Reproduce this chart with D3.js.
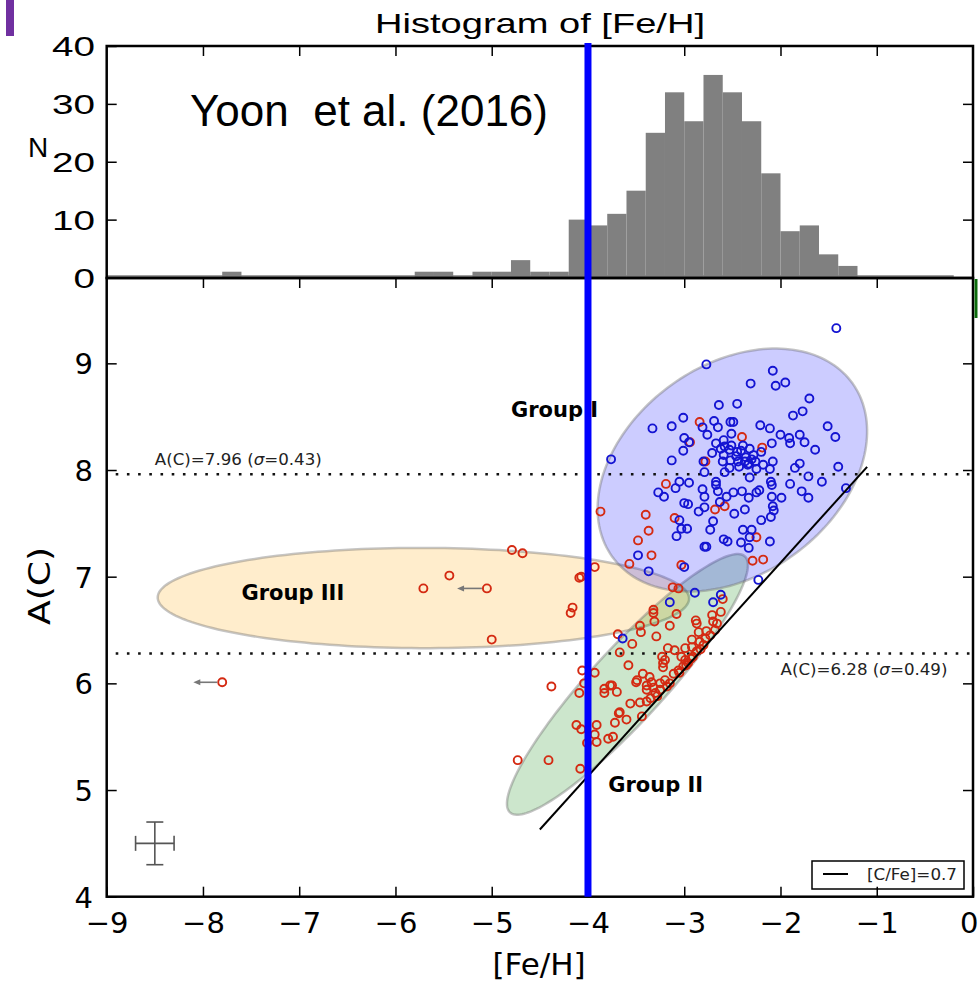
<!DOCTYPE html>
<html>
<head>
<meta charset="utf-8">
<script src="https://cdn.jsdelivr.net/npm/d3@7/dist/d3.min.js"></script>
<style>
  html, body { margin: 0; padding: 0; background: #fff; }
  svg { display: block; }
</style>
</head>
<body>
<div id="chart"></div>
<script>
'use strict';

/* ── Histogram of [Fe/H] (0.2 dex bins, left edges) ── */
const histEdges = [
  -9.0, -8.8, -8.6, -8.4, -8.2, -8.0, -7.8, -7.6, -7.4, -7.2, -7.0,
  -6.8, -6.6, -6.4, -6.2, -6.0, -5.8, -5.6, -5.4, -5.2, -5.0, -4.8,
  -4.6, -4.4, -4.2, -4.0, -3.8, -3.6, -3.4, -3.2, -3.0, -2.8, -2.6,
  -2.4, -2.2, -2.0, -1.8, -1.6, -1.4, -1.2, -1.0, -0.8, -0.6, -0.4
];
const histCounts = [
  0, 0, 0, 0, 0, 0, 1, 0, 0, 0, 0,
  0, 0, 0, 0, 0, 1, 1, 0, 1, 1, 3,
  1, 1, 10, 9, 11, 15, 25, 32, 27, 35, 32,
  27, 18, 8, 9, 4, 2, 0, 0, 0, 0, 0
];
const histBinWidth = 0.2;
const histTicks = [0, 10, 20, 30, 40];

/* ── Scatter: [Fe/H], A(C) ── */
const blueStars = [
  [-1.42, 9.33], [-2.77, 8.99], [-2.08, 8.93], [-2.31, 8.81], [-2.05, 8.79], [-1.95, 8.82], [-1.70, 8.67],
  [-2.64, 8.61], [-2.45, 8.62], [-1.77, 8.55], [-1.87, 8.51], [-3.01, 8.49], [-3.33, 8.39], [-3.13, 8.41],
  [-2.69, 8.46], [-2.52, 8.45], [-2.49, 8.45], [-2.65, 8.40], [-2.81, 8.40], [-2.21, 8.42], [-2.11, 8.39],
  [-1.51, 8.41], [-1.43, 8.31], [-2.00, 8.33], [-1.91, 8.30], [-1.80, 8.33], [-1.75, 8.26], [-1.64, 8.19],
  [-1.90, 8.25], [-2.09, 8.25], [-2.76, 8.33], [-2.51, 8.34], [-3.00, 8.30], [-2.95, 8.26], [-3.01, 8.18],
  [-3.76, 8.10], [-3.13, 8.09], [-2.71, 8.16], [-2.67, 8.25], [-2.59, 8.28], [-2.58, 8.22], [-2.53, 8.19],
  [-2.45, 8.17], [-2.39, 8.23], [-2.32, 8.20], [-2.28, 8.14], [-2.37, 8.08], [-2.44, 8.08], [-2.52, 8.09],
  [-2.60, 8.08], [-2.08, 8.08], [-2.18, 8.05], [-1.80, 8.06], [-1.40, 8.03], [-2.80, 8.08], [-2.59, 8.14],
  [-2.79, 7.98], [-2.58, 7.98], [-2.33, 8.06], [-2.25, 8.01], [-2.11, 8.01], [-1.85, 8.02], [-1.71, 7.94],
  [-1.57, 7.89], [-1.32, 7.83], [-3.05, 7.89], [-2.95, 7.88], [-3.27, 7.79], [-3.21, 7.75], [-3.09, 7.83],
  [-2.81, 7.82], [-2.79, 7.75], [-2.67, 7.89], [-2.67, 7.86], [-2.65, 7.80], [-2.56, 7.75], [-2.49, 7.79],
  [-2.40, 7.80], [-2.33, 7.74], [-2.25, 7.79], [-2.22, 7.81], [-2.09, 7.86], [-2.09, 7.75], [-1.99, 7.74],
  [-1.90, 7.87], [-1.78, 7.80], [-1.71, 7.74], [-2.32, 7.93], [-2.10, 7.89], [-3.00, 7.69], [-2.96, 7.68],
  [-2.85, 7.61], [-2.79, 7.65], [-2.63, 7.70], [-2.48, 7.59], [-2.37, 7.63], [-2.20, 7.53], [-2.10, 7.56],
  [-2.07, 7.62], [-2.08, 7.66], [-3.05, 7.53], [-2.97, 7.45], [-3.03, 7.45], [-3.08, 7.38], [-2.70, 7.52],
  [-2.73, 7.44], [-2.39, 7.44], [-2.30, 7.44], [-2.32, 7.37], [-2.41, 7.32], [-2.33, 7.27], [-2.11, 7.33],
  [-2.59, 7.35], [-2.55, 7.33], [-2.79, 7.28], [-2.77, 7.28], [-3.48, 7.20], [-3.37, 7.05], [-3.00, 7.09],
  [-2.23, 6.97], [-2.46, 8.13], [-2.36, 8.12], [-2.30, 8.10], [-2.41, 8.18], [-2.51, 8.23], [-2.34, 8.05],
  [-2.26, 8.08], [-2.43, 8.03], [-2.53, 8.02], [-2.20, 8.17], [-2.62, 8.20],
  [-2.89, 6.85], [-2.62, 6.83], [-3.15, 6.76], [-2.70, 6.76], [-3.64, 6.42]
];

const redStars = [
  // inside Group I
  [-2.84, 8.45], [-2.94, 8.26], [-2.40, 8.31], [-2.19, 8.21], [-2.78, 8.08], [-3.19, 7.87], [-3.87, 7.61],
  [-3.40, 7.58], [-3.37, 7.43], [-3.48, 7.34], [-3.34, 7.20], [-3.10, 7.55], [-3.57, 7.12], [-3.03, 7.11],
  [-2.29, 7.15], [-2.18, 7.16], [-2.68, 7.63], [-2.58, 7.66], [-2.25, 7.37],
  // Group III
  [-4.79, 7.25], [-4.68, 7.22], [-5.44, 7.01], [-5.71, 6.89], [-5.00, 6.41], [-4.09, 6.99], [-4.07, 7.00],
  [-3.93, 7.09], [-4.16, 6.71], [-4.18, 6.66], [-4.06, 6.12], [-3.93, 6.10], [-4.38, 5.97],
  // Group II
  [-3.12, 6.90], [-3.06, 6.89], [-2.60, 6.79], [-2.62, 6.67], [-3.32, 6.69], [-3.32, 6.66], [-3.31, 6.58],
  [-3.08, 6.65], [-3.15, 6.54], [-3.46, 6.54], [-3.45, 6.48], [-3.29, 6.44], [-2.88, 6.59], [-2.87, 6.56],
  [-2.71, 6.64], [-2.70, 6.58], [-2.85, 6.48], [-2.77, 6.49], [-2.73, 6.45], [-2.92, 6.41], [-2.84, 6.39],
  [-2.80, 6.36], [-3.69, 6.46], [-3.54, 6.37], [-3.67, 6.29], [-3.17, 6.33], [-3.10, 6.31], [-3.23, 6.25],
  [-3.20, 6.22], [-2.99, 6.33], [-2.92, 6.34], [-2.87, 6.30], [-2.91, 6.25], [-3.03, 6.25], [-2.99, 6.22],
  [-2.96, 6.19], [-3.22, 6.19], [-3.22, 6.15], [-3.58, 6.17], [-3.49, 6.03], [-3.43, 6.09], [-3.36, 6.06],
  [-3.39, 5.98], [-3.11, 6.09], [-3.06, 6.12], [-3.01, 6.16], [-3.20, 6.03], [-3.15, 6.00], [-3.25, 6.00],
  [-3.77, 5.98], [-4.09, 5.91], [-3.83, 5.95], [-3.83, 5.91], [-3.75, 5.98], [-3.70, 5.92], [-3.50, 6.01],
  [-3.39, 5.94], [-3.34, 6.01], [-3.32, 5.96], [-3.30, 5.91], [-3.25, 5.94], [-3.56, 5.81], [-3.46, 5.82],
  [-3.39, 5.83], [-3.67, 5.73], [-3.68, 5.72], [-3.60, 5.66], [-3.72, 5.63], [-3.44, 5.69], [-4.12, 5.61],
  [-4.07, 5.57], [-3.91, 5.61], [-3.93, 5.52], [-3.91, 5.45], [-3.79, 5.48], [-3.74, 5.50], [-4.73, 5.28],
  [-4.41, 5.28], [-4.08, 5.20], [-4.01, 5.44], [-4.04, 6.00],
  [-3.28, 5.88], [-3.18, 5.97], [-3.05, 6.10], [-2.98, 6.17], [-2.93, 6.23], [-2.83, 6.32], [-2.78, 6.42],
  [-2.68, 6.50], [-2.66, 6.56], [-3.35, 5.86]
];

// upper limits on [Fe/H]
const limitStars = [[-7.80, 6.01], [-5.05, 6.89]];
const limitArrowTo = [-8.10, -5.36];

/* ── Group ellipses: centre, two conjugate semi-axes (data units) ── */
const groupNames = ['Group III', 'Group II', 'Group I'];
const groupCenters = [[-5.71, 6.80], [-3.59, 5.99], [-2.50, 8.00]];
const groupAxisU = [[2.76, -0.01], [1.22, 1.20], [1.25, 0.81]];
const groupAxisV = [[0.03, 0.47], [0.28, -0.23], [-0.63, 0.80]];
const groupFills = ['rgba(255,165,0,0.2)', 'rgba(0,128,0,0.2)', 'rgba(0,0,255,0.2)'];
const groupLabelPos = [[-7.60, 6.78], [-3.79, 4.98], [-4.80, 8.50]];

/* ── Reference lines ── */
const meanLevels = [7.96, 6.28];
const meanSigmas = [0.43, 0.49];
const meanLabelPos = [[-8.50, 8.05], [-2.00, 6.08]];
const solarAC = 8.43;
const cfeRef = 0.7;
const cfeLineFeH = [-4.5, -1.1];
const cutFeH = -4.0;
const errBar = { x: -8.5, y: 4.5, dx: 0.2, dy: 0.2 };

const xTicks = [-9, -8, -7, -6, -5, -4, -3, -2, -1, 0];
const yTicks = [4, 5, 6, 7, 8, 9];

/* ── Layout ── */
const W = 978, H = 982;
const L = 106.7, R = 973;
const topT = 46, split = 278, botB = 896.7;

const x = d3.scaleLinear().domain([-9, 0]).range([L, R]);
const yBot = d3.scaleLinear().domain([4, 9.8]).range([botB, split]);
const yTop = d3.scaleLinear().domain([0, 40]).range([split - 0.5, topT]);

const DV = 'DejaVu Sans, Verdana, sans-serif';
const LS = 'Liberation Sans, Arial, sans-serif';

const svg = d3.select('#chart').append('svg')
  .attr('width', W).attr('height', H)
  .style('background', '#fff');

svg.append('defs').append('clipPath').attr('id', 'botclip')
  .append('rect').attr('x', L).attr('y', split).attr('width', R - L).attr('height', botB - split);

/* ── Purple marker top-left ── */
svg.append('rect').attr('x', 6).attr('y', 0).attr('width', 8).attr('height', 36).attr('fill', '#7030a0');

/* ── Top panel: histogram ── */
svg.append('g').selectAll('rect')
  .data(histEdges.map((e, i) => ({ e, n: histCounts[i] })).filter(d => d.n > 0))
  .join('rect')
  .attr('x', d => x(d.e))
  .attr('width', d => x(d.e + histBinWidth) - x(d.e))
  .attr('y', d => yTop(d.n))
  .attr('height', d => yTop(0) - yTop(d.n))
  .attr('fill', '#808080');

// thin baseline of empty bins
svg.append('line')
  .attr('x1', x(histEdges[0])).attr('x2', x(histEdges[histEdges.length - 1] + histBinWidth))
  .attr('y1', split - 2).attr('y2', split - 2)
  .attr('stroke', '#808080').attr('stroke-width', 1.5);

function styleAxis(g) {
  g.select('.domain').remove();
  g.selectAll('line').attr('stroke', '#000').attr('stroke-width', 1.5);
}

svg.append('g').attr('transform', `translate(${L},0)`)
  .call(d3.axisLeft(yTop).tickValues(histTicks).tickSizeInner(-10).tickSizeOuter(0).tickFormat(''))
  .call(styleAxis);
svg.append('g').attr('transform', `translate(${R},0)`)
  .call(d3.axisRight(yTop).tickValues(histTicks.slice(1, 4)).tickSizeInner(-10).tickSizeOuter(0).tickFormat(''))
  .call(styleAxis);
svg.append('g').attr('transform', `translate(0,${topT})`)
  .call(d3.axisTop(x).tickValues(xTicks.slice(1, -1)).tickSizeInner(-10).tickSizeOuter(0).tickFormat(''))
  .call(styleAxis);

svg.append('g').selectAll('text')
  .data(histTicks)
  .join('text')
  .attr('transform', d => `translate(95,${yTop(d) + 10}) scale(1.38,1)`)
  .attr('text-anchor', 'end')
  .attr('font-family', LS).attr('font-size', 28)
  .text(d => d);

svg.append('text').attr('x', 28).attr('y', 157)
  .attr('font-family', LS).attr('font-size', 28).text('N');

svg.append('text').attr('x', 375).attr('y', 33)
  .attr('font-family', LS).attr('font-size', 28)
  .attr('textLength', 330).attr('lengthAdjust', 'spacingAndGlyphs')
  .text('Histogram of [Fe/H]');

svg.append('text').attr('x', 190).attr('y', 126)
  .attr('font-family', LS).attr('font-size', 44)
  .style('white-space', 'pre')
  .text('Yoon  et al. (2016)');

svg.append('rect').attr('x', L).attr('y', topT).attr('width', R - L).attr('height', split - topT)
  .attr('fill', 'none').attr('stroke', '#000').attr('stroke-width', 2.5);

/* ── Bottom panel ── */
const plot = svg.append('g').attr('clip-path', 'url(#botclip)');

const ellLine = d3.line().curve(d3.curveLinearClosed);
plot.append('g').selectAll('path')
  .data(groupNames.map((n, i) => ({ n, c: groupCenters[i], u: groupAxisU[i], v: groupAxisV[i], f: groupFills[i] })))
  .join('path')
  .attr('d', d => ellLine(d3.range(0, 360, 2).map(a => {
    const t = a * Math.PI / 180;
    return [
      x(d.c[0] + d.u[0] * Math.cos(t) + d.v[0] * Math.sin(t)),
      yBot(d.c[1] + d.u[1] * Math.cos(t) + d.v[1] * Math.sin(t))
    ];
  })))
  .attr('fill', d => d.f)
  .attr('stroke', 'rgba(110,110,110,0.4)')
  .attr('stroke-width', 2.5);

// mean A(C) levels
plot.append('g').selectAll('line')
  .data(meanLevels)
  .join('line')
  .attr('x1', L).attr('x2', R)
  .attr('y1', d => yBot(d)).attr('y2', d => yBot(d))
  .attr('stroke', '#111').attr('stroke-width', 2.6)
  .attr('stroke-dasharray', '2.6 8.6')
  .attr('transform', 'translate(9,0)');

const meanText = svg.append('g').attr('font-family', DV).attr('font-size', 16).attr('fill', '#222');
meanLevels.forEach((m, i) => {
  const t = meanText.append('text')
    .attr('x', x(meanLabelPos[i][0])).attr('y', yBot(meanLabelPos[i][1]))
    .attr('textLength', 167).attr('lengthAdjust', 'spacingAndGlyphs');
  t.append('tspan').text(`A(C)=${m.toFixed(2)} (`);
  t.append('tspan').attr('font-style', 'italic').text('σ');
  t.append('tspan').text(`=${meanSigmas[i].toFixed(2)})`);
});

// group labels
svg.append('g').selectAll('text')
  .data(groupNames)
  .join('text')
  .attr('x', (d, i) => x(groupLabelPos[i][0]))
  .attr('y', (d, i) => yBot(groupLabelPos[i][1]))
  .attr('font-family', DV).attr('font-size', 21).attr('font-weight', 'bold')
  .text(d => d);

// stars
plot.append('g').selectAll('circle')
  .data(redStars.concat(limitStars))
  .join('circle')
  .attr('cx', d => x(d[0])).attr('cy', d => yBot(d[1])).attr('r', 4)
  .attr('fill', 'none').attr('stroke', '#d42a12').attr('stroke-width', 1.9);

plot.append('g').selectAll('circle')
  .data(blueStars)
  .join('circle')
  .attr('cx', d => x(d[0])).attr('cy', d => yBot(d[1])).attr('r', 4)
  .attr('fill', 'none').attr('stroke', '#1414d2').attr('stroke-width', 1.9);

// upper-limit arrows
const arrows = svg.append('g').attr('stroke', '#777').attr('fill', '#777');
limitStars.forEach((s, i) => {
  const x0 = x(s[0]) - 5, x1 = x(limitArrowTo[i]), yy = yBot(s[1]);
  arrows.append('line').attr('x1', x0).attr('x2', x1 + 4).attr('y1', yy).attr('y2', yy).attr('stroke-width', 1.6);
  arrows.append('path').attr('stroke', 'none')
    .attr('d', `M${x1},${yy}L${x1 + 7},${yy - 3}L${x1 + 7},${yy + 3}Z`);
});

// [C/Fe] = 0.7 line
plot.append('line')
  .attr('x1', x(cfeLineFeH[0])).attr('y1', yBot(cfeLineFeH[0] + cfeRef + solarAC))
  .attr('x2', x(cfeLineFeH[1])).attr('y2', yBot(cfeLineFeH[1] + cfeRef + solarAC))
  .attr('stroke', '#000').attr('stroke-width', 2);

// typical error bar
const eb = svg.append('g').attr('stroke', '#555').attr('stroke-width', 1.6);
const ex = x(errBar.x), ey = yBot(errBar.y);
eb.append('line').attr('x1', x(errBar.x - errBar.dx)).attr('x2', x(errBar.x + errBar.dx)).attr('y1', ey).attr('y2', ey);
eb.append('line').attr('x1', ex).attr('x2', ex).attr('y1', yBot(errBar.y - errBar.dy)).attr('y2', yBot(errBar.y + errBar.dy));
[errBar.x - errBar.dx, errBar.x + errBar.dx].forEach(v => {
  eb.append('line').attr('x1', x(v)).attr('x2', x(v)).attr('y1', ey - 7.5).attr('y2', ey + 7.5);
});
[errBar.y - errBar.dy, errBar.y + errBar.dy].forEach(v => {
  eb.append('line').attr('x1', ex - 8.5).attr('x2', ex + 8.5).attr('y1', yBot(v)).attr('y2', yBot(v));
});

// legend
const lg = svg.append('g');
lg.append('rect').attr('x', 812).attr('y', 861).attr('width', 152).attr('height', 28)
  .attr('fill', '#fff').attr('stroke', '#000').attr('stroke-width', 1.5);
lg.append('line').attr('x1', 823).attr('x2', 848).attr('y1', 874).attr('y2', 874)
  .attr('stroke', '#000').attr('stroke-width', 2);
lg.append('text').attr('x', 867).attr('y', 880)
  .attr('font-family', DV).attr('font-size', 15).attr('fill', '#222')
  .attr('textLength', 90).attr('lengthAdjust', 'spacingAndGlyphs')
  .text(`[C/Fe]=${cfeRef}`);

// axes
svg.append('g').attr('transform', `translate(0,${botB})`)
  .call(d3.axisBottom(x).tickValues(xTicks).tickSizeInner(-10).tickSizeOuter(0).tickPadding(15.7).tickFormat(d3.format('d')))
  .call(styleAxis)
  .call(g => g.selectAll('text').attr('font-family', DV).attr('font-size', 29).attr('fill', '#000'))
  // keep the last label inside the page
  .call(g => g.selectAll('.tick').filter(d => d === 0).select('text').attr('text-anchor', 'end').attr('dx', 5));
svg.append('g').attr('transform', `translate(0,${split})`)
  .call(d3.axisTop(x).tickValues(xTicks.slice(1, -1)).tickSizeInner(-10).tickSizeOuter(0).tickFormat(''))
  .call(styleAxis);
svg.append('g').attr('transform', `translate(${L},0)`)
  .call(d3.axisLeft(yBot).tickValues(yTicks).tickSizeInner(-10).tickSizeOuter(0).tickPadding(13.7).tickFormat(d3.format('d')))
  .call(styleAxis)
  .call(g => g.selectAll('text').attr('font-family', DV).attr('font-size', 29).attr('fill', '#000').attr('dy', '0.36em'));
svg.append('g').attr('transform', `translate(${R},0)`)
  .call(d3.axisRight(yBot).tickValues(yTicks.slice(1)).tickSizeInner(-10).tickSizeOuter(0).tickFormat(''))
  .call(styleAxis);

svg.append('rect').attr('x', L).attr('y', split).attr('width', R - L).attr('height', botB - split)
  .attr('fill', 'none').attr('stroke', '#000').attr('stroke-width', 2.5);

svg.append('text').attr('x', 539).attr('y', 975)
  .attr('text-anchor', 'middle').attr('font-family', DV).attr('font-size', 31)
  .text('[Fe/H]');

svg.append('text')
  .attr('transform', `translate(50,586) rotate(-90)`)
  .attr('text-anchor', 'middle').attr('font-family', DV).attr('font-size', 30)
  .attr('textLength', 78).attr('lengthAdjust', 'spacingAndGlyphs')
  .text('A(C)');

// cut at [Fe/H] = -4
svg.append('line')
  .attr('x1', x(cutFeH)).attr('x2', x(cutFeH))
  .attr('y1', topT - 3).attr('y2', botB)
  .attr('stroke', '#0000ff').attr('stroke-width', 7);

// small green edge mark on the right
svg.append('line').attr('x1', 976).attr('x2', 976).attr('y1', 279).attr('y2', 318)
  .attr('stroke', '#0b6b0b').attr('stroke-width', 3);
</script>
</body>
</html>
